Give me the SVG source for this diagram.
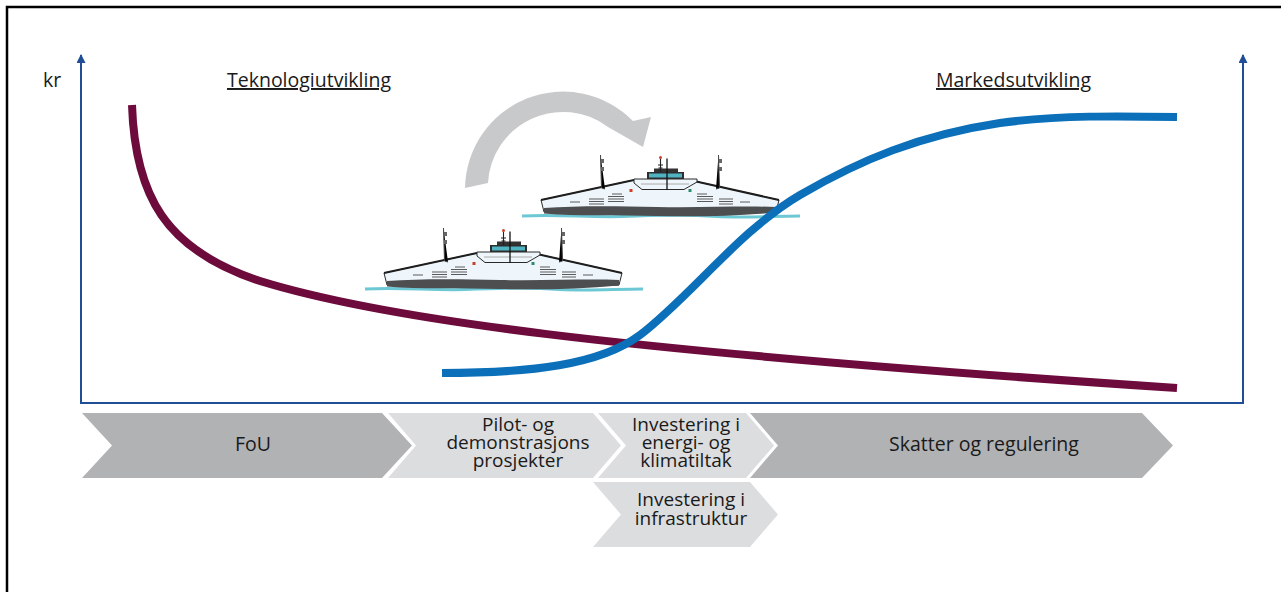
<svg xmlns="http://www.w3.org/2000/svg" xmlns:xlink="http://www.w3.org/1999/xlink" width="1281" height="592" viewBox="0 0 1281 592">
  <style>
    .lbl { font-family: "Open Sans", "Noto Sans", "Liberation Sans", sans-serif; font-size: 19.5px; fill: #1a1a1a; }
    .stack { font-size: 19px; }
    .mid { text-anchor: middle; }
    .axis { stroke: #1f4e96; stroke-width: 2; fill: none; }
    .dark { fill: #b1b2b4; }
    .light { fill: #dcdddf; }
    .curve { fill: none; stroke-width: 8; }
    .hull { fill: #eef6fb; stroke: #2a2a2a; stroke-width: 1; }
    .dash { stroke: #5a5a5a; stroke-width: 1.2; }
    .mast { stroke: #444; stroke-width: 1; }
  </style>
  <defs>
    <marker id="axisHead" viewBox="0 0 10 10" refX="9" refY="5" markerWidth="10" markerHeight="9" markerUnits="userSpaceOnUse" orient="auto">
      <path d="M0,0 L10,5 L0,10 Z" fill="#1f4e96"/>
    </marker>
    <!-- electric ferry illustration -->
    <g id="ferry">
      <!-- waterline -->
      <path d="M365,289 C 400,287 430,290.5 465,289.5 C 500,288 530,287.5 560,289.5 C 590,291 615,289 643,289" fill="none" stroke="#6cc8d4" stroke-width="3"/>
      <!-- hull -->
      <path class="hull" d="M384,273 L477,253 L537,254 L622,273 L619,285 C 560,288 440,288 387,285 Z"/>
      <!-- dark lower band -->
      <path d="M387,281 C 420,278.5 460,279 500,280 C 545,281 585,278.5 619,280 L619,285.5 C 580,289 540,290 500,289 C 460,288 420,289.5 387,286.5 Z" fill="#4d4e50"/>
      <!-- deck edge -->
      <path d="M384,273 L477,253 M537,254 L622,273" stroke="#1e1e1e" stroke-width="2" fill="none"/>
      <!-- cabin -->
      <path class="hull" d="M477,252 L540,252 L540,255 L527,262.5 L485,262.5 L477,256 Z"/>
      <path d="M484,257 L532,257" stroke="#9a9a9a" stroke-width="0.8"/>
      <!-- bridge -->
      <rect x="497" y="241.5" width="24" height="3.5" fill="#333"/>
      <rect x="490" y="245" width="37" height="7" fill="#2d2d2d"/>
      <rect x="492" y="246.5" width="33" height="4" fill="#4fb3c1"/>
      <path d="M503.5,232 L503.5,245 M501,238 L506,238 M501.5,241 L505.5,241" stroke="#222" stroke-width="1.1"/>
      <circle cx="503.5" cy="230.5" r="1.5" fill="#c8412b"/>
      <path d="M510,231.5 L510,263" stroke="#111" stroke-width="1.3"/>
      <!-- antenna masts -->
      <path class="mast" d="M443.5,228 L444.5,261 L448,262 M561.5,228 L562.5,261 L559,262"/>
      <rect x="444" y="232" width="3" height="4" fill="#666"/>
      <rect x="444" y="240" width="3" height="4" fill="#666"/>
      <rect x="562" y="232" width="3" height="4" fill="#666"/>
      <rect x="562" y="240" width="3" height="4" fill="#666"/>
      <!-- side lights -->
      <rect x="472.5" y="262" width="3" height="3" fill="#c8412b"/>
      <rect x="531.5" y="262" width="3" height="3" fill="#2e8a6e"/>
      <!-- window rows -->
      <path class="dash" d="M413,275 H423 M432,272 H447 M432,274.5 H447 M432,277 H447 M455,267 H465 M451,269.5 H467 M451,272 H467 M451,274.5 H467 M540,267 H550 M540,269.5 H556 M540,272 H556 M540,274.5 H556 M562,272 H576 M562,274.5 H576 M562,277 H576 M583,275 H593"/>
    </g>
  </defs>

  <rect width="1281" height="592" fill="#fff"/>
  <!-- outer frame -->
  <rect x="7" y="7" width="1300" height="620" fill="none" stroke="#000" stroke-width="2.5"/>

  <!-- axes -->
  <g id="axes">
    <path class="axis" d="M81,403 L81,55" marker-end="url(#axisHead)"/>
    <path class="axis" d="M1243,403 L1243,55" marker-end="url(#axisHead)"/>
    <path class="axis" d="M80,403 L1244,403"/>
  </g>

  <g id="labels">
    <text class="lbl" x="43" y="87">kr</text>
    <text class="lbl" x="227" y="87" text-decoration="underline">Teknologiutvikling</text>
    <text class="lbl" x="936" y="87" text-decoration="underline">Markedsutvikling</text>
  </g>

  <!-- cycle arrow -->
  <g id="cycle-arrow">
    <path d="M465,188 A98,98 0 0 1 633,121 L651,117 L643,147 L608,127 A75,75 0 0 0 488,183 Z" fill="#c8c9cb"/>
  </g>

  <g id="ferries">
    <use xlink:href="#ferry" href="#ferry"/>
    <use xlink:href="#ferry" href="#ferry" transform="translate(157,-73)"/>
  </g>

  <!-- curves -->
  <g id="curves">
    <path id="technology-cost" class="curve" stroke="#6d0b3c" d="M132,105 C 135,195 165,250 260,281 C 380,318 600,350 1177,388"/>
    <path id="market-growth" class="curve" stroke="#0b70b9" d="M442,373 C 530,373 600,365 640,335 C 690,297 740,230 800,195 C 860,160 920,135 1000,123 C 1060,115 1120,116 1177,117"/>
  </g>

  <!-- phases -->
  <g id="phase-fou">
    <path class="dark" d="M82,413 H382 L412,445.5 L382,478 H82 L112,445.5 Z"/>
    <text class="lbl mid" x="253" y="451">FoU</text>
  </g>
  <g id="phase-pilot">
    <path class="light" d="M388,413 H593 L621,445.5 L593,478 H388 L416,445.5 Z"/>
    <text class="lbl stack mid" x="518" y="431">Pilot- og</text>
    <text class="lbl stack mid" x="518" y="449">demonstrasjons</text>
    <text class="lbl stack mid" x="518" y="467">prosjekter</text>
  </g>
  <g id="phase-energi">
    <path class="light" d="M598,413 H746 L774,445.5 L746,478 H598 L626,445.5 Z"/>
    <text class="lbl stack mid" x="686" y="431">Investering i</text>
    <text class="lbl stack mid" x="686" y="449">energi- og</text>
    <text class="lbl stack mid" x="686" y="467">klimatiltak</text>
  </g>
  <g id="phase-skatter">
    <path class="dark" d="M750,413 H1142 L1173,445.5 L1142,478 H750 L778,445.5 Z"/>
    <text class="lbl mid" x="984" y="451">Skatter og regulering</text>
  </g>
  <g id="phase-infrastruktur">
    <path class="light" d="M593,482 H750 L778,514.5 L750,547 H593 L621,514.5 Z"/>
    <text class="lbl stack mid" x="691" y="506">Investering i</text>
    <text class="lbl stack mid" x="691" y="525">infrastruktur</text>
  </g>
</svg>
